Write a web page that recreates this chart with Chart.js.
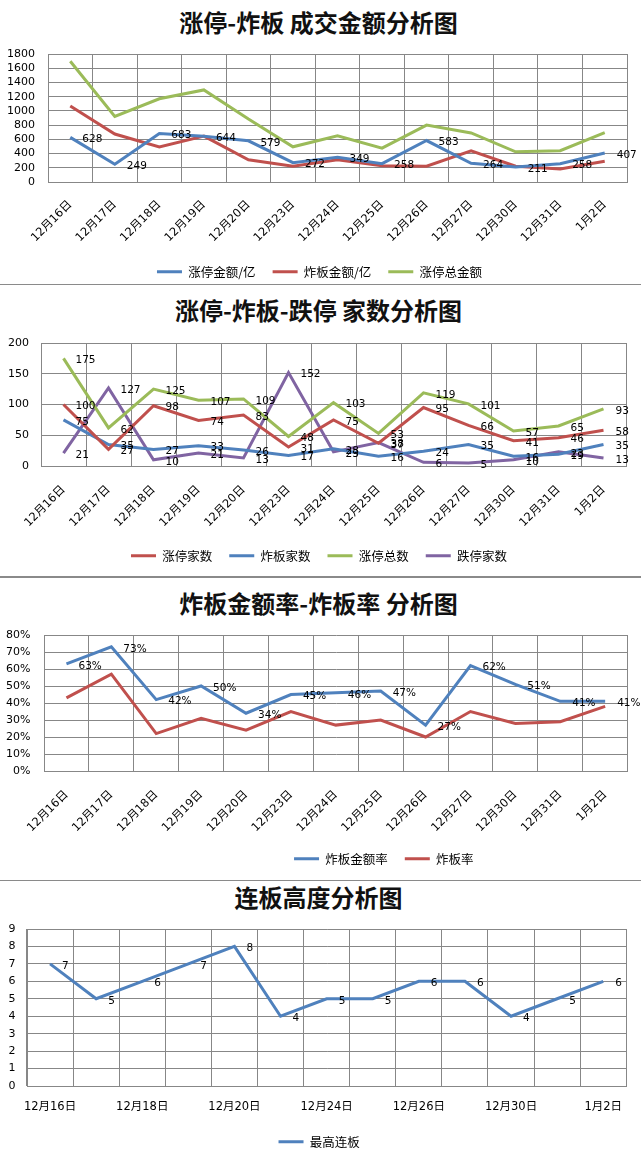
<!DOCTYPE html>
<html lang="zh">
<head>
<meta charset="UTF-8">
<title>涨停-炸板 分析图</title>
<style>
    body {
        margin: 0;
        padding: 0;
        background: #fff;
        width: 641px;
        height: 1160px;
        position: relative;
        overflow: hidden;
        font-family: "Noto Sans CJK SC", sans-serif;
    }
    .title {
        position: absolute;
        left: 0;
        width: 637px;
        text-align: center;
        font-size: 24px;
        font-weight: bold;
        line-height: 30px;
        color: #111;
        white-space: nowrap;
    }
    .box {
        position: absolute;
        left: 0;
    }
    .sep {
        position: absolute;
        left: 0;
        width: 641px;
        background: #8a8a8a;
        z-index: 5;
    }
</style>
<script src="https://cdn.jsdelivr.net/npm/chart.js"></script>
</head>
<body>
    <div class="title" style="top:7px">涨停-炸板 成交金额分析图</div>
    <canvas class="box" id="c1" width="641" height="248" style="top:40px"></canvas>
    <div class="sep" style="top:284px;height:1px"></div>

    <div class="title" style="top:295px">涨停-炸板-跌停 家数分析图</div>
    <canvas class="box" id="c2" width="641" height="247" style="top:325px"></canvas>
    <div class="sep" style="top:576px;height:2px"></div>

    <div class="title" style="top:588px">炸板金额率-炸板率 分析图</div>
    <canvas class="box" id="c3" width="641" height="257" style="top:618px"></canvas>
    <div class="sep" style="top:880px;height:1px"></div>

    <div class="title" style="top:882px">连板高度分析图</div>
    <canvas class="box" id="c4" width="641" height="246" style="top:912px"></canvas>

<script>
    // 日期
    const days = ['12月16日', '12月17日', '12月18日', '12月19日', '12月20日', '12月23日', '12月24日',
                  '12月25日', '12月26日', '12月27日', '12月30日', '12月31日', '1月2日'];

    // 图1: 成交金额 (亿)
    const ztAmount      = [628, 249, 683, 644, 579, 272, 349, 258, 583, 264, 211, 258, 407];
    const zbAmount      = [1070, 675, 493, 645, 312, 222, 313, 230, 222, 437, 222, 183, 292];
    const ztTotalAmount = [1698, 922, 1170, 1295, 885, 495, 650, 477, 800, 690, 425, 440, 695];

    // 图2: 家数
    const ztCount      = [100, 27, 98, 74, 83, 31, 75, 37, 95, 66, 41, 46, 58];
    const zbCount      = [75, 35, 27, 33, 26, 17, 28, 16, 24, 35, 16, 19, 35];
    const ztTotalCount = [175, 62, 125, 107, 109, 48, 103, 53, 119, 101, 57, 65, 93];
    const dtCount      = [21, 127, 10, 21, 13, 152, 23, 38, 6, 5, 10, 23, 13];

    // 图3: 炸板率 (%)
    const zbAmountRate = [63, 73, 42, 50, 34, 45, 46, 47, 27, 62, 51, 41, 41];
    const zbRate       = [43, 57, 22, 31, 24, 35, 27, 30, 20, 35, 28, 29, 38];

    // 图4: 最高连板
    const maxBoard = [7, 5, 6, 7, 8, 4, 5, 5, 6, 6, 4, 5, 6];

    const BLUE = '#4F81BD', RED = '#C0504D', GREEN = '#9BBB59', PURPLE = '#8064A2';
    const GRID = '#878787';

    Chart.defaults.font.family = '"DejaVu Sans", "Noto Sans CJK SC", sans-serif';
    Chart.defaults.color = '#000';

    // data labels to the right of each point
    const valueLabels = {
        id: 'valueLabels',
        afterDatasetsDraw(chart, args, opts) {
            if (!opts.show) return;
            const ctx = chart.ctx;
            ctx.save();
            ctx.font = '10.5px "DejaVu Sans"';
            ctx.fillStyle = '#000';
            ctx.textAlign = 'left';
            ctx.textBaseline = 'middle';
            opts.show.forEach(di => {
                const meta = chart.getDatasetMeta(di);
                const vals = chart.data.datasets[di].data;
                meta.data.forEach((pt, i) => {
                    ctx.fillText(vals[i] + (opts.suffix || ''), pt.x + 12, pt.y + 2);
                });
            });
            ctx.restore();
        }
    };

    // move the legend sideways
    const legendShift = {
        id: 'legendShift',
        afterLayout(chart, args, opts) {
            const dx = opts.dx || 0;
            if (chart.legend) {
                chart.legend.left += dx;
                chart.legend.right += dx;
            }
        }
    };
    Chart.register(valueLabels, legendShift);

    function line(label, data, color) {
        return {
            label: label,
            data: data,
            borderColor: color,
            backgroundColor: color,
            borderWidth: 3,
            pointRadius: 0,
            tension: 0
        };
    }

    function makeChart(id, datasets, o) {
        new Chart(document.getElementById(id), {
            type: 'line',
            data: { labels: days, datasets: datasets },
            options: {
                responsive: false,
                animation: false,
                layout: { padding: { top: o.padTop, right: o.padRight, left: 0, bottom: 0 } },
                plugins: {
                    tooltip: { enabled: false },
                    legend: {
                        position: 'bottom',
                        labels: {
                            usePointStyle: true,
                            pointStyle: 'line',
                            pointStyleWidth: 25,
                            padding: 17,
                            color: '#000',
                            font: { size: 12.5, family: '"Noto Sans CJK SC"' }
                        }
                    },
                    valueLabels: { show: o.labels, suffix: o.suffix },
                    legendShift: { dx: o.legendDx }
                },
                scales: {
                    x: {
                        offset: true,
                        grid: { offset: true, color: GRID, drawTicks: false },
                        border: { color: GRID },
                        ticks: {
                            autoSkip: false,
                            minRotation: o.rotate,
                            maxRotation: o.rotate,
                            padding: o.xPad,
                            font: { size: o.xFont },
                            callback: o.xCallback || function (v) { return this.getLabelForValue(v); }
                        },
                        afterFit: s => { s.height = o.xHeight; }
                    },
                    y: {
                        min: 0,
                        max: o.yMax,
                        grid: { color: GRID, drawTicks: false },
                        border: { color: GRID },
                        ticks: {
                            autoSkip: false,
                            stepSize: o.step,
                            padding: o.yPad,
                            font: { size: 11 },
                            callback: o.yCallback || (v => v)
                        },
                        afterFit: s => {
                            s.width = o.yWidth;
                            s.paddingTop = 6;
                            s.paddingBottom = 6;
                        }
                    }
                }
            }
        });
    }

    makeChart('c1', [
        line('涨停金额/亿', ztAmount, BLUE),
        line('炸板金额/亿', zbAmount, RED),
        line('涨停总金额', ztTotalAmount, GREEN)
    ], { padTop: 14, padRight: 14, yMax: 1800, step: 200, yWidth: 48, yPad: 13,
         xHeight: 66.5, xPad: 16, rotate: 45, xFont: 11.5, labels: [0], legendDx: 6 });

    makeChart('c2', [
        line('涨停家数', ztCount, RED),
        line('炸板家数', zbCount, BLUE),
        line('涨停总数', ztTotalCount, GREEN),
        line('跌停家数', dtCount, PURPLE)
    ], { padTop: 18, padRight: 15, yMax: 200, step: 50, yWidth: 41, yPad: 12,
         xHeight: 66.5, xPad: 17, rotate: 45, xFont: 11.5, labels: [0, 1, 2, 3], legendDx: 6 });

    makeChart('c3', [
        line('炸板金额率', zbAmountRate, BLUE),
        line('炸板率', zbRate, RED)
    ], { padTop: 17, padRight: 13.4, yMax: 80, step: 10, yWidth: 44, yPad: 13.5,
         xHeight: 64.5, xPad: 17, rotate: 45, xFont: 11.5, labels: [0], suffix: '%', legendDx: 70,
         yCallback: v => v + '%' });

    makeChart('c4', [
        line('最高连板', maxBoard, BLUE)
    ], { padTop: 17, padRight: 14.7, yMax: 9, step: 1, yWidth: 27, yPad: 11.5,
         xHeight: 32.5, xPad: 14, rotate: 0, xFont: 11.5, labels: [0], legendDx: 6,
         xCallback: function (v, i) { return i % 2 === 0 ? this.getLabelForValue(v) : ''; } });
</script>
</body>
</html>
